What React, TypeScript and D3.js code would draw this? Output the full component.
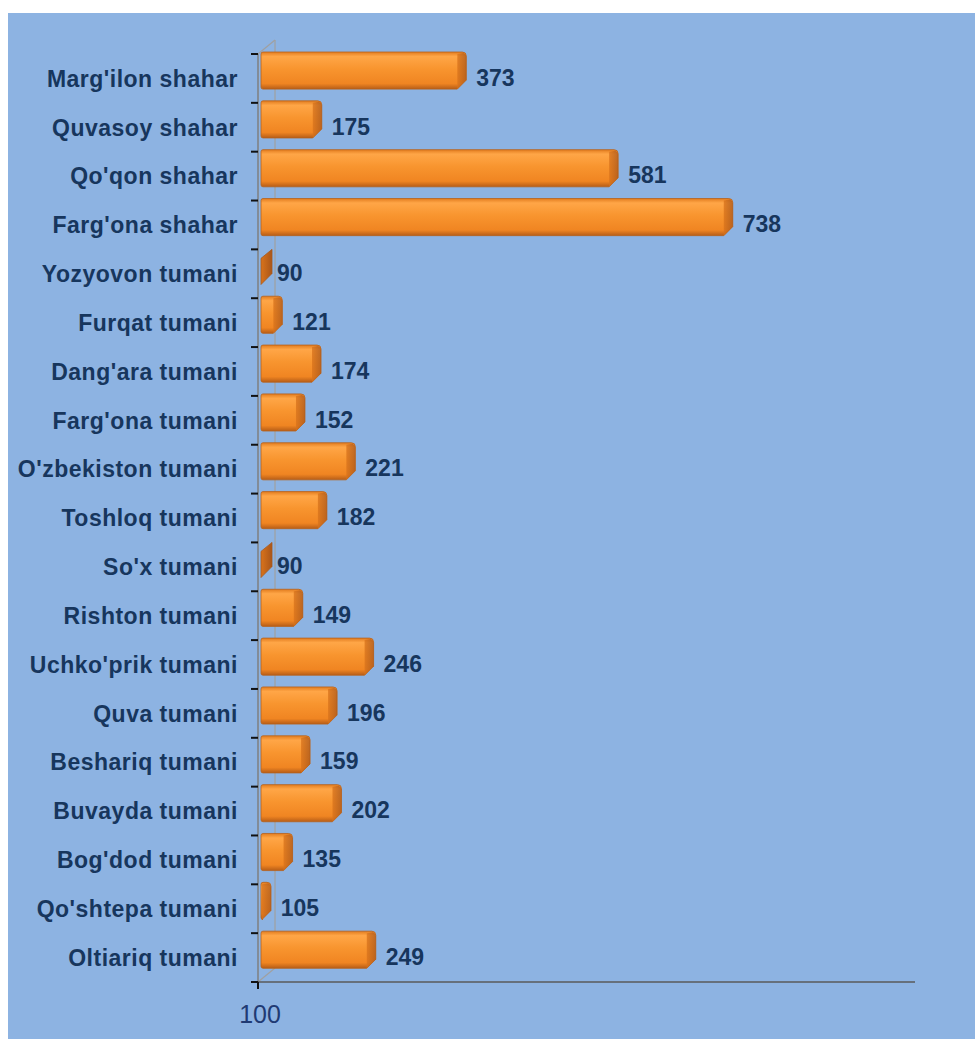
import * as d3 from "d3";

// district / city names, top to bottom
const categories = [
  "Marg'ilon shahar",
  "Quvasoy shahar",
  "Qo'qon shahar",
  "Farg'ona shahar",
  "Yozyovon tumani",
  "Furqat tumani",
  "Dang'ara tumani",
  "Farg'ona tumani",
  "O'zbekiston tumani",
  "Toshloq tumani",
  "So'x tumani",
  "Rishton tumani",
  "Uchko'prik tumani",
  "Quva tumani",
  "Beshariq tumani",
  "Buvayda tumani",
  "Bog'dod tumani",
  "Qo'shtepa tumani",
  "Oltiariq tumani",
];
const values = [373, 175, 581, 738, 90, 121, 174, 152, 221, 182, 90, 149, 246, 196, 159, 202, 135, 105, 249];
const xTicks = [100];
const xDomain = [100, 1000];

const W = 975;
const H = 1039;
const LEFT = 258;
const RIGHT = 915;
const TOP = 54;
const BOTTOM = 982;
const DEPTH = 9; // bar side depth
const WALL_DX = 17;
const WALL_DY = 14;

const navy = "#17365D";

function barPath(x0: number, x1: number, y0: number, y1: number) {
  const d = DEPTH;
  const r = 4;
  // front face + right side, chamfered bottom-right
  return `M${x0},${y0 + 2} Q${x0},${y0} ${x0 + 2},${y0} L${x1 + d - r},${y0} Q${x1 + d},${y0} ${x1 + d},${y0 + r} L${x1 + d},${y1 - d} L${x1},${y1} L${x0 + 2},${y1} Q${x0},${y1} ${x0},${y1 - 2} Z`;
}

function sidePath(x1: number, y0: number, y1: number) {
  const d = DEPTH;
  return `M${x1},${y0 + 2} L${x1 + d - 3},${y0 + 1} Q${x1 + d},${y0 + 2} ${x1 + d},${y0 + 5} L${x1 + d},${y1 - d} L${x1},${y1} Z`;
}

export default function App() {
  const x = d3.scaleLinear().domain(xDomain).range([LEFT, RIGHT]);
  const y = d3.scaleBand<string>().domain(categories).range([TOP, BOTTOM]).padding(0);
  const bw = y.bandwidth();

  return (
    <div style={{ position: "absolute", left: 0, top: 0 }}>
      <svg width={W} height={H} style={{ display: "block" }} fontFamily="'Liberation Sans', Arial, sans-serif">
        <defs>
          <linearGradient id="barGrad" x1="0" y1="0" x2="0" y2="1">
            <stop offset="0%" stopColor="#E27C1E" />
            <stop offset="12%" stopColor="#FFA647" />
            <stop offset="45%" stopColor="#F8952F" />
            <stop offset="85%" stopColor="#F08522" />
            <stop offset="100%" stopColor="#B75D17" />
          </linearGradient>
          <linearGradient id="sideGrad" x1="0" y1="0" x2="1" y2="0">
            <stop offset="0%" stopColor="#D9731B" />
            <stop offset="100%" stopColor="#A9561A" />
          </linearGradient>
        </defs>

        <rect x={8} y={13} width={W - 8} height={H - 13} fill="#8DB3E2" />

        {/* back wall edges */}
        <g stroke="#A0A0A0" strokeWidth={1.2} fill="none">
          <line x1={LEFT} y1={TOP} x2={LEFT + WALL_DX} y2={TOP - WALL_DY} />
          <line x1={LEFT + WALL_DX} y1={TOP - WALL_DY} x2={LEFT + WALL_DX} y2={BOTTOM - WALL_DY} />
          <line x1={LEFT} y1={BOTTOM} x2={LEFT + WALL_DX} y2={BOTTOM - WALL_DY} />
        </g>

        {/* bars */}
        {categories.map((c, i) => {
          const v = values[i];
          const y0 = (y(c) ?? 0) - 2;
          const y1 = y0 + bw * 0.76;
          const x0 = LEFT + 3;
          if (v <= xDomain[0]) {
            // value below the axis minimum: only the thin side sliver shows
            const d = 11;
            return (
              <path
                key={c}
                d={`M${x0},${y0 + d} L${x0 + d},${y0 + 2} L${x0 + d},${y1 - d} L${x0},${y1} Z`}
                fill="url(#sideGrad)"
                stroke="#A85A1E"
                strokeWidth={0.8}
                strokeLinejoin="round"
              />
            );
          }
          const x1 = Math.max(x(v), x0 + 1);
          return (
            <g key={c}>
              <path d={barPath(x0, x1, y0, y1)} fill="url(#barGrad)" stroke="#B8621C" strokeWidth={0.8} strokeLinejoin="round" />
              <path d={sidePath(x1, y0, y1)} fill="url(#sideGrad)" opacity={0.75} />
            </g>
          );
        })}

        {/* axes */}
        <line x1={LEFT} y1={TOP} x2={LEFT} y2={BOTTOM} stroke="#7F7F7F" strokeWidth={1.5} />
        <line x1={LEFT} y1={BOTTOM} x2={RIGHT} y2={BOTTOM} stroke="#5A5A5A" strokeWidth={1.5} />
        {d3.range(categories.length + 1).map((i) => {
          const ty = TOP + i * bw;
          return <line key={i} x1={LEFT - 7} y1={ty} x2={LEFT} y2={ty} stroke="#111" strokeWidth={2} />;
        })}
        {xTicks.map((t) => (
          <g key={t}>
            <line x1={x(t)} y1={BOTTOM} x2={x(t)} y2={BOTTOM + 7} stroke="#111" strokeWidth={2} />
            <text x={x(t) + 2} y={1023} textAnchor="middle" fontSize={25} fill="#1F3A73">
              {t}
            </text>
          </g>
        ))}

        {/* category labels */}
        {categories.map((c) => (
          <text
            key={c}
            x={238}
            y={(y(c) ?? 0) + bw / 2}
            dy="0.36em"
            textAnchor="end"
            fontSize={23}
            fontWeight="bold"
            letterSpacing={0.5}
            fill={navy}
          >
            {c}
          </text>
        ))}

        {/* value labels */}
        {categories.map((c, i) => (
          <text
            key={c}
            x={x(Math.max(values[i], xDomain[0])) + DEPTH + 10}
            y={(y(c) ?? 0) + bw / 2 - 1}
            dy="0.36em"
            fontSize={23}
            fontWeight="bold"
            fill={navy}
          >
            {values[i]}
          </text>
        ))}
      </svg>
    </div>
  );
}
